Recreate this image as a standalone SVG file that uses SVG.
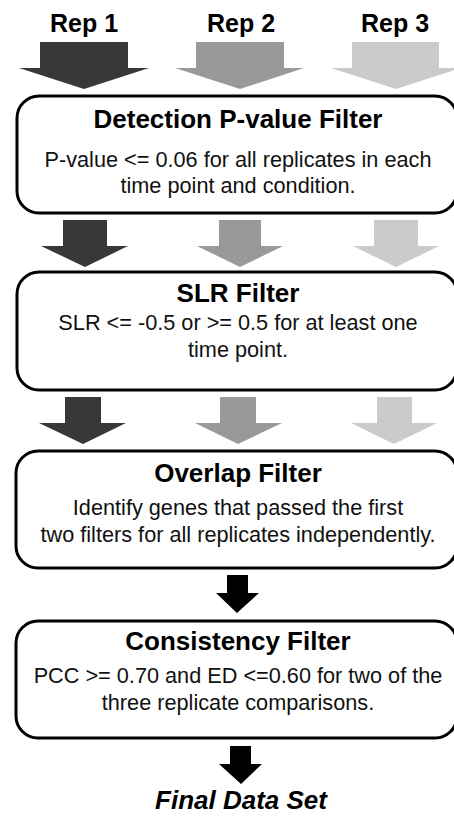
<svg xmlns="http://www.w3.org/2000/svg" width="454" height="816" viewBox="0 0 454 816">
<style>
.box{fill:#fff;stroke:#000;stroke-width:3}
.r{font-family:"Liberation Sans",Arial,sans-serif;font-weight:bold;font-size:25px;text-anchor:middle;fill:#000}
.t{font-family:"Liberation Sans",Arial,sans-serif;font-weight:bold;font-size:26px;text-anchor:middle;fill:#000}
.b{font-family:"Liberation Sans",Arial,sans-serif;font-size:21.7px;text-anchor:middle;fill:#111}
.d{fill:#383838}.m{fill:#999}.l{fill:#cbcbcb}.k{fill:#000}
</style>
<rect width="454" height="816" fill="#fff"/>
<g id="labels">
<text class="r" x="84" y="32">Rep 1</text>
<text class="r" x="241" y="32">Rep 2</text>
<text class="r" x="395" y="32">Rep 3</text>
</g>
<g id="connectors">
<polygon class="d" points="40,42 128,42 128,68 149,68 84,89 19,68 40,68"/>
<polygon class="m" points="196,42 284,42 284,68 304,68 240,89 175,68 196,68"/>
<polygon class="l" points="352,42 439,42 439,68 461,68 396,89 331,68 352,68"/>
<polygon class="d" points="63,220 107,220 107,246 128,246 85,267 41,246 63,246"/>
<polygon class="m" points="219,220 261,220 261,246 283,246 240,267 197,246 219,246"/>
<polygon class="l" points="374,220 418,220 418,246 439,246 396,267 353,246 374,246"/>
<polygon class="d" points="65,397 101,397 101,423 126,423 83,444 39,423 65,423"/>
<polygon class="m" points="220,397 256,397 256,423 282,423 238,444 195,423 220,423"/>
<polygon class="l" points="377,397 412,397 412,423 437,423 394,444 351,423 377,423"/>
<polygon class="k" points="227,575 248,575 248,593 259,593 237,613 216,593 227,593"/>
<polygon class="k" points="230,746 251,746 251,764 262,764 241,784 219,764 230,764"/>
</g>
<g id="detection">
<rect class="box" x="17" y="96" width="440" height="117" rx="22"/>
<text class="t" x="238" y="128">Detection P-value Filter</text>
<text class="b" x="238" y="167">P-value &lt;= 0.06 for all replicates in each</text>
<text class="b" x="238" y="193">time point and condition.</text>
</g>
<g id="slr">
<rect class="box" x="17" y="272" width="440" height="118" rx="22"/>
<text class="t" x="238" y="302">SLR Filter</text>
<text class="b" x="238" y="330">SLR &lt;= -0.5 or &gt;= 0.5 for at least one</text>
<text class="b" x="238" y="357">time point.</text>
</g>
<g id="overlap">
<rect class="box" x="16" y="451" width="441" height="117" rx="22"/>
<text class="t" x="238" y="482">Overlap Filter</text>
<text class="b" x="238" y="515">Identify genes that passed the first</text>
<text class="b" x="238" y="542">two filters for all replicates independently.</text>
</g>
<g id="consistency">
<rect class="box" x="16" y="621" width="441" height="117" rx="22"/>
<text class="t" x="238" y="650">Consistency Filter</text>
<text class="b" x="238" y="683">PCC &gt;= 0.70 and ED &lt;=0.60 for two of the</text>
<text class="b" x="238" y="710">three replicate comparisons.</text>
</g>
<g id="final">
<text class="t" x="241" y="809" font-style="italic">Final Data Set</text>
</g>
</svg>
